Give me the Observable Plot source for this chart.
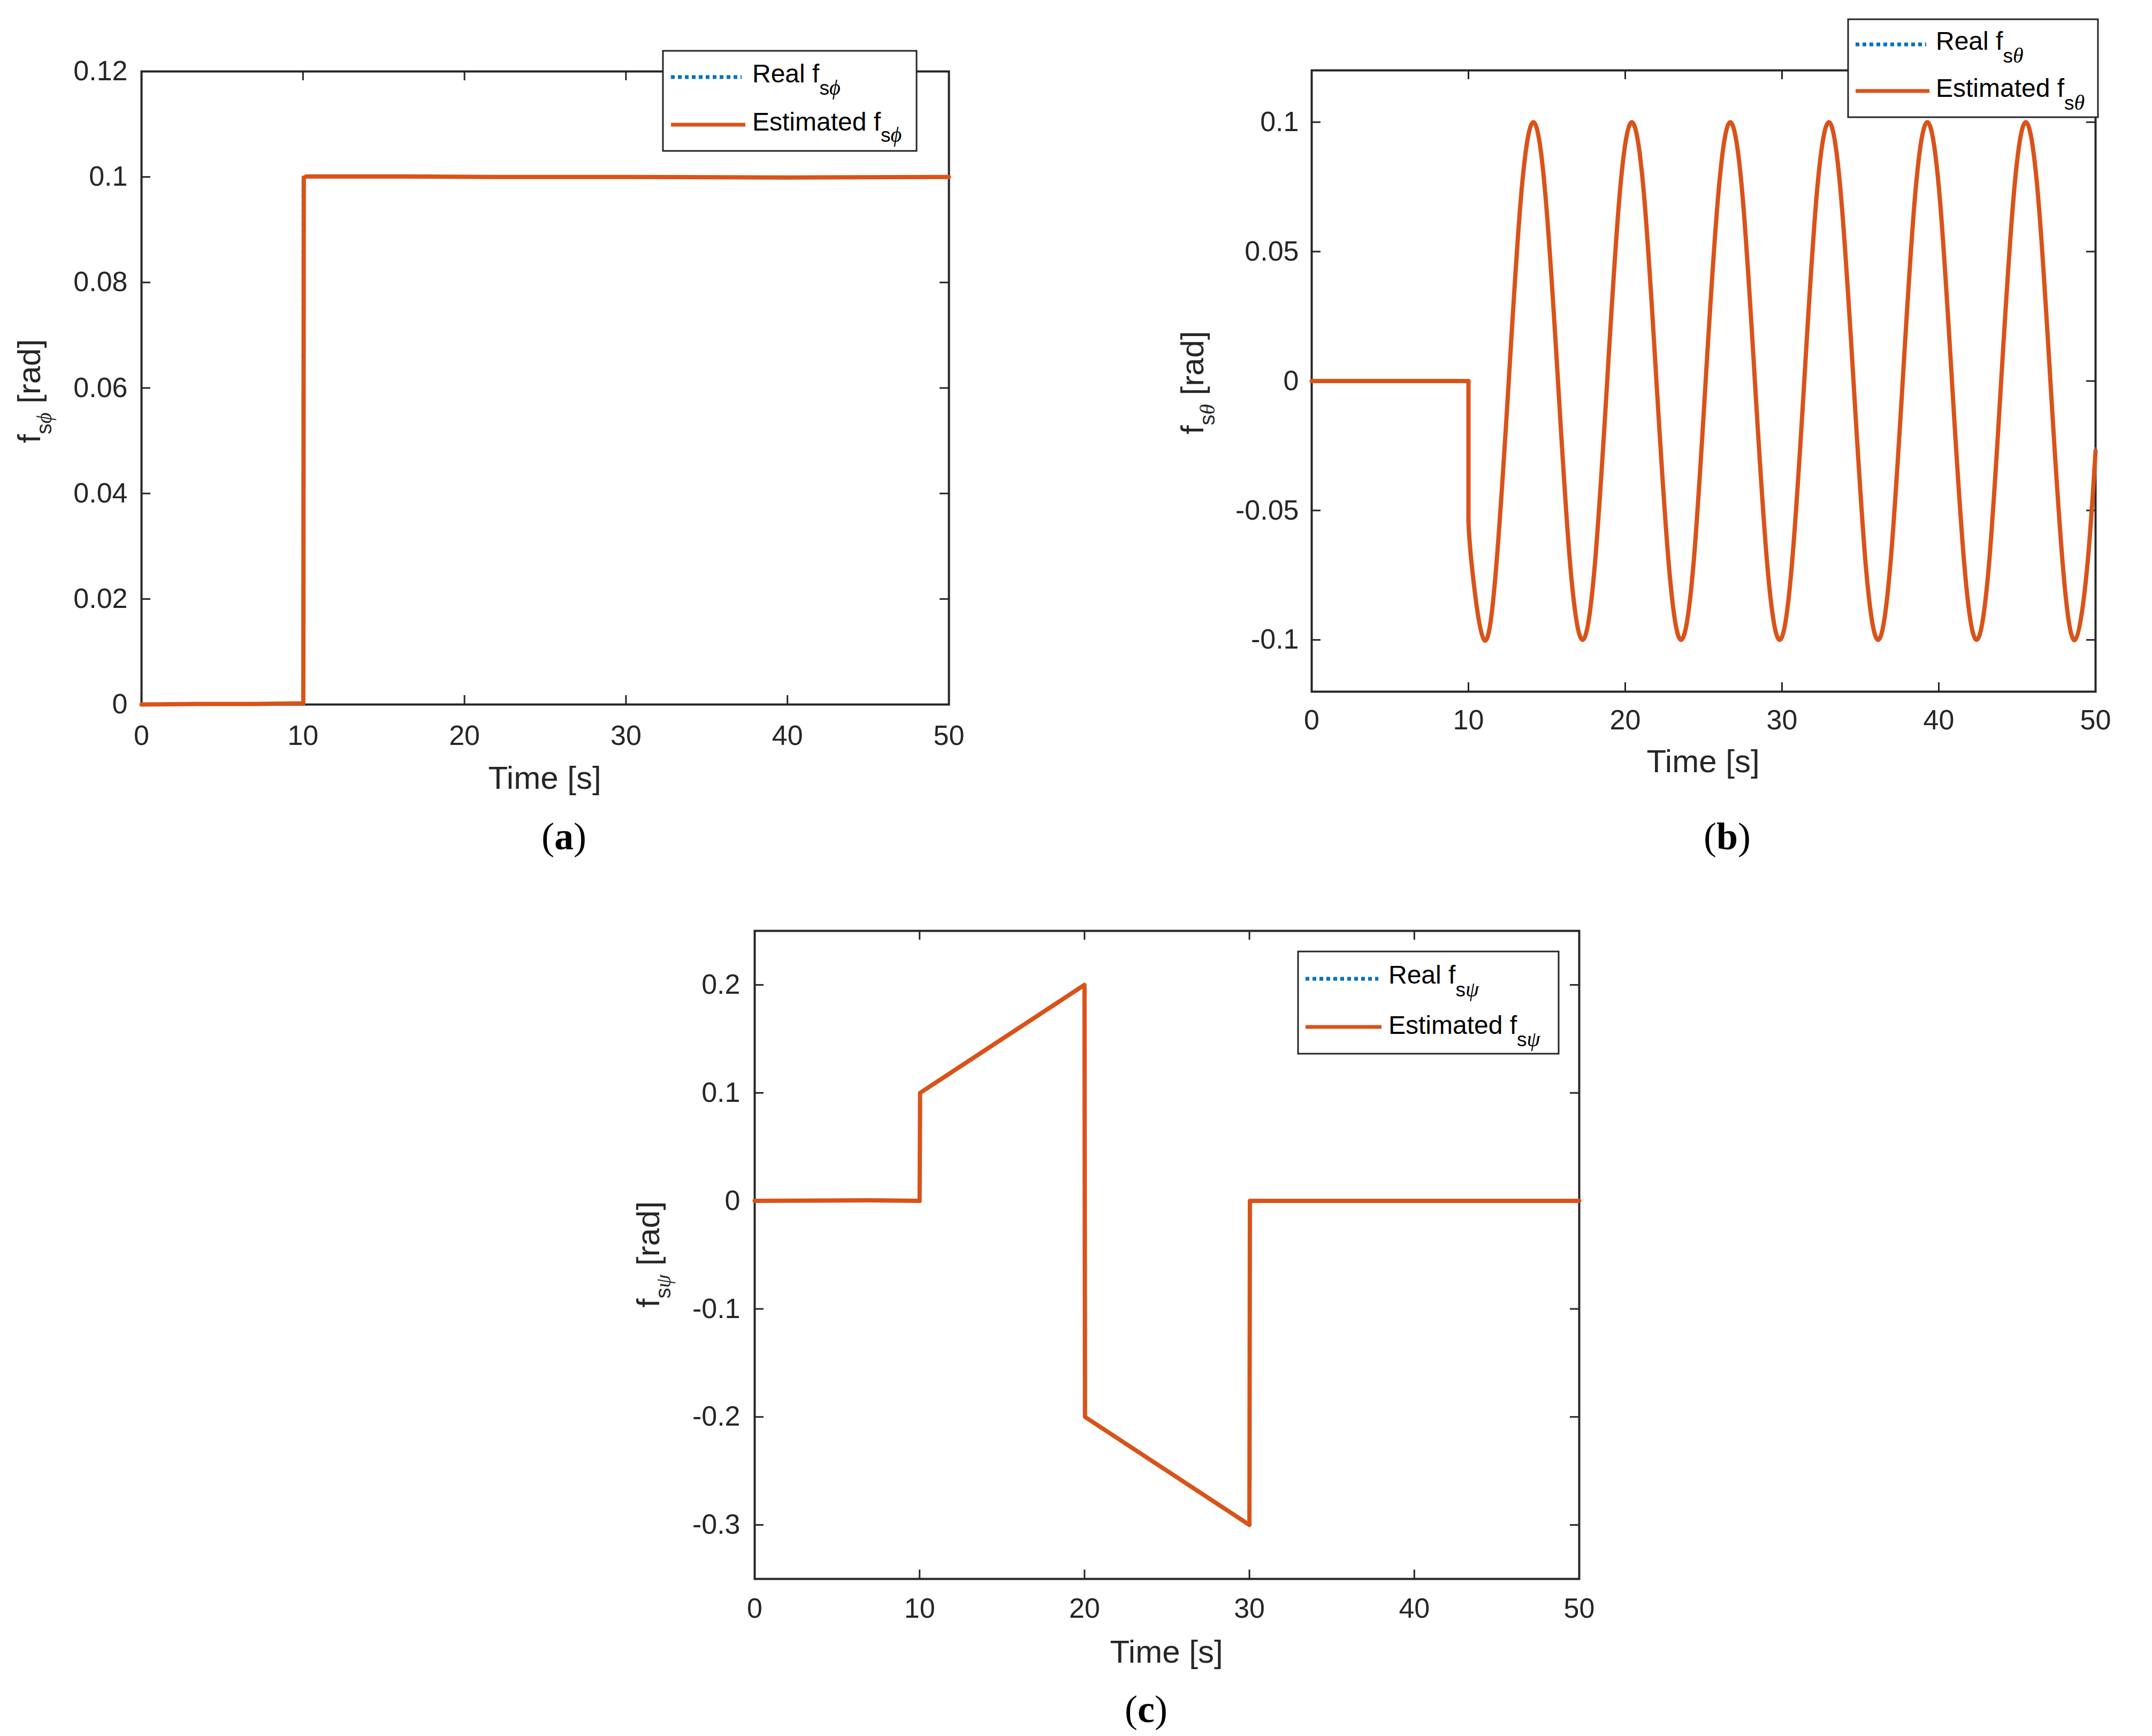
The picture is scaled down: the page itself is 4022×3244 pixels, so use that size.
<!DOCTYPE html>
<html>
<head>
<meta charset="utf-8">
<script src="https://cdn.jsdelivr.net/npm/d3@7"></script>
<script src="https://cdn.jsdelivr.net/npm/@observablehq/plot@0.6"></script>
<style>
html, body { margin: 0; padding: 0; background: #fff; }
#page { position: relative; width: 4022px; height: 3244px; background: #fff; overflow: hidden; }
#page svg { position: absolute; overflow: visible; max-width: none; }
</style>
</head>
<body>
<div id="page"></div>
<script>
// ---------------- DATA ----------------
const xTicks = [0, 10, 20, 30, 40, 50];

// (a) f_s phi
const yTicksA = [0, 0.02, 0.04, 0.06, 0.08, 0.1, 0.12];
const realA_t = [0, 10, 10, 50];
const realA_v = [0, 0, 0.1, 0.1];
const estA_t = [0, 3.5, 7, 9.4, 10.02, 10.05, 10.2, 15.5, 22, 30, 40, 50];
const estA_v = [0, 0.0001, 0.0001, 0.0002, 0.0002, 0.0998, 0.1001, 0.1001, 0.1, 0.1, 0.0999, 0.1];

// (b) f_s theta
const yTicksB = [-0.1, -0.05, 0, 0.05, 0.1];
const stepB_t = [0, 10, 10];
const stepB_v = [0, 0, -0.054];
const waveB_t = [10, 10.21, 11.0, 11.78, 12.57, 13.35, 14.14, 14.92, 15.71, 16.49, 17.28, 18.06, 18.85,
  19.63, 20.42, 21.21, 21.99, 22.78, 23.56, 24.35, 25.13, 25.92, 26.7, 27.49, 28.27, 29.06, 29.85,
  30.63, 31.42, 32.2, 32.99, 33.77, 34.56, 35.34, 36.13, 36.91, 37.7, 38.48, 39.27, 40.06, 40.84,
  41.63, 42.41, 43.2, 43.98, 44.77, 45.55, 46.34, 47.12, 47.91, 48.69, 49.48, 50];
const realB_v = [-0.054,
  -0.071, -0.1, -0.071, 0, 0.071, 0.1, 0.071, 0,
  -0.071, -0.1, -0.071, 0, 0.071, 0.1, 0.071, 0,
  -0.071, -0.1, -0.071, 0, 0.071, 0.1, 0.071, 0,
  -0.071, -0.1, -0.071, 0, 0.071, 0.1, 0.071, 0,
  -0.071, -0.1, -0.071, 0, 0.071, 0.1, 0.071, 0,
  -0.071, -0.1, -0.071, 0, 0.071, 0.1, 0.071, 0,
  -0.071, -0.1, -0.071,
  -0.026];
const estB_v = [-0.054,
  -0.071, -0.1, -0.071, 0, 0.071, 0.1, 0.071, 0,
  -0.071, -0.1, -0.071, 0, 0.071, 0.1, 0.071, 0,
  -0.071, -0.1, -0.071, 0, 0.071, 0.1, 0.071, 0,
  -0.071, -0.1, -0.071, 0, 0.071, 0.1, 0.071, 0,
  -0.071, -0.1, -0.071, 0, 0.071, 0.1, 0.071, 0,
  -0.071, -0.1, -0.071, 0, 0.071, 0.1, 0.071, 0,
  -0.071, -0.1, -0.071,
  -0.027];

// (c) f_s psi
const yTicksC = [-0.3, -0.2, -0.1, 0, 0.1, 0.2];
const realC_t = [0, 10, 10, 20, 20, 30, 30, 50];
const realC_v = [0, 0, 0.1, 0.2, -0.2, -0.3, 0, 0];
const estC_t = [0, 7, 10, 10.03, 20, 20.03, 30, 30.03, 50];
const estC_v = [0, 0.0005, 0, 0.1, 0.2, -0.2, -0.3, 0, 0];

const seriesNames = ["Real f", "Estimated f"];

// ---------------- STYLE ----------------
const AX = "#262626";
const BLUE = "#0072BD";
const ORANGE = "#D95319";
const SANS = "'Liberation Sans', Arial, Helvetica, sans-serif";
const SERIF = "'Liberation Serif', 'DejaVu Serif', 'Times New Roman', serif";
const TL = 17;

const zip = (t, v) => t.map((x, i) => ({t: x, v: v[i]}));

const panels = [
  {
    id: "a", greek: "\u03D5", left: 0, top: 0, width: 1840, height: 1640,
    frame: [264, 133, 1773, 1316], yDomain: [0, 0.12], yTicks: yTicksA,
    xPad: 39, yPad: 26,
    real: [zip(realA_t, realA_v)], est: [zip(estA_t, estA_v)], estCurve: [],
    realCurve: [],
    yLab: [75, 731], xLab: [1018, 1474], pLab: [1054, 1587],
    leg: {box: [1239, 95, 474, 187], x0: 1254, bx1: 1386, ox1: 1393, tx: 1406,
          by: 144, rb: 154, rs: 177, oy: 233, eb: 244, es: 265}
  },
  {
    id: "b", greek: "\u03B8", left: 2000, top: 0, width: 2022, height: 1640,
    frame: [2451, 131, 3916, 1292], yDomain: [-0.12, 0.12], yTicks: yTicksB,
    xPad: 34, yPad: 24,
    real: [zip(stepB_t, stepB_v)], est: [zip(stepB_t, stepB_v)],
    realCurve: [zip(waveB_t, realB_v)], estCurve: [zip(waveB_t, estB_v)],
    yLab: [2249, 715], xLab: [3183, 1443], pLab: [3228, 1587],
    leg: {box: [3454, 36, 467, 183], x0: 3468, bx1: 3600, ox1: 3606, tx: 3618,
          by: 83, rb: 93, rs: 117, oy: 170, eb: 181, es: 205}
  },
  {
    id: "c", greek: "\u03C8", left: 1000, top: 1650, width: 2022, height: 1594,
    frame: [1410, 1739, 2951, 2950], yDomain: [-0.35, 0.25], yTicks: yTicksC,
    xPad: 36, yPad: 27,
    real: [zip(realC_t, realC_v)], est: [zip(estC_t, estC_v)], realCurve: [], estCurve: [],
    yLab: [1232, 2344], xLab: [2180, 3107], pLab: [2142, 3218],
    leg: {box: [2426, 1778, 487, 191], x0: 2440, bx1: 2576, ox1: 2582, tx: 2595,
          by: 1829, rb: 1838, rs: 1862, oy: 1919, eb: 1932, es: 1955}
  }
];

const page = document.getElementById("page");

for (const p of panels) {
  const [x0, y0, x1, y1] = p.frame;
  const mL = x0 - p.left, mT = y0 - p.top;
  const mR = p.left + p.width - x1, mB = p.top + p.height - y1;
  const W = x1 - x0, H = y1 - y0;

  const realStyle = {x: "t", y: "v", stroke: BLUE, strokeWidth: 5, strokeDasharray: "7 6"};
  const estStyle = {x: "t", y: "v", stroke: ORANGE, strokeWidth: 8, strokeLinejoin: "round"};

  const svg = Plot.plot({
    width: p.width, height: p.height,
    marginLeft: mL, marginRight: mR, marginTop: mT, marginBottom: mB,
    style: {fontFamily: SANS, color: AX, background: "transparent"},
    x: {domain: [0, 50]},
    y: {domain: p.yDomain},
    marks: [
      Plot.frame({stroke: AX, strokeWidth: 4}),
      Plot.tickX(xTicks, {x: d => d, insetTop: H - TL, stroke: AX, strokeWidth: 3}),
      Plot.tickX(xTicks, {x: d => d, insetBottom: H - TL, stroke: AX, strokeWidth: 3}),
      Plot.tickY(p.yTicks, {y: d => d, insetRight: W - TL, stroke: AX, strokeWidth: 3}),
      Plot.tickY(p.yTicks, {y: d => d, insetLeft: W - TL, stroke: AX, strokeWidth: 3}),
      Plot.axisX(xTicks, {tickSize: 0, tickPadding: p.xPad, fontSize: 52, label: null, tickFormat: d => String(d)}),
      Plot.axisY(p.yTicks, {tickSize: 0, tickPadding: p.yPad, fontSize: 52, label: null, tickFormat: d => String(d)}),
      ...p.real.map(d => Plot.line(d, realStyle)),
      ...p.realCurve.map(d => Plot.line(d, {...realStyle, curve: "natural"})),
      ...p.est.map(d => Plot.line(d, estStyle)),
      ...p.estCurve.map(d => Plot.line(d, {...estStyle, curve: "natural"}))
    ]
  });
  svg.style.left = p.left + "px";
  svg.style.top = p.top + "px";
  page.appendChild(svg);

  const g = d3.select(svg).append("g")
    .attr("transform", `translate(${-p.left},${-p.top})`)
    .attr("text-anchor", "start");

  // y label
  const yl = g.append("text")
    .attr("transform", `translate(${p.yLab[0]},${p.yLab[1]}) rotate(-90)`)
    .attr("text-anchor", "middle").attr("font-family", SANS).attr("font-size", 60).attr("fill", AX);
  yl.append("tspan").text("f");
  yl.append("tspan").attr("dy", 21).attr("font-size", 40).text("s");
  yl.append("tspan").attr("font-size", 40).attr("font-style", "italic").attr("font-family", SERIF).text(p.greek);
  yl.append("tspan").attr("dy", -21).text(" [rad]");

  // x label
  g.append("text").attr("x", p.xLab[0]).attr("y", p.xLab[1])
    .attr("text-anchor", "middle").attr("font-family", SANS).attr("font-size", 60).attr("fill", AX)
    .text("Time [s]");

  // panel label
  const pl = g.append("text").attr("x", p.pLab[0]).attr("y", p.pLab[1])
    .attr("text-anchor", "middle").attr("font-family", SERIF).attr("font-size", 72).attr("fill", "#000");
  pl.append("tspan").text("(");
  pl.append("tspan").attr("font-weight", "bold").text(p.id);
  pl.append("tspan").text(")");

  // legend
  const L = p.leg;
  const lg = g.append("g");
  lg.append("rect").attr("x", L.box[0]).attr("y", L.box[1]).attr("width", L.box[2]).attr("height", L.box[3])
    .attr("fill", "#fff").attr("stroke", AX).attr("stroke-width", 3);
  lg.append("line").attr("x1", L.x0).attr("x2", L.bx1).attr("y1", L.by).attr("y2", L.by)
    .attr("stroke", BLUE).attr("stroke-width", 7).attr("stroke-dasharray", "7 6");
  lg.append("line").attr("x1", L.x0).attr("x2", L.ox1).attr("y1", L.oy).attr("y2", L.oy)
    .attr("stroke", ORANGE).attr("stroke-width", 7);
  const rows = [[seriesNames[0], L.rb, L.rs], [seriesNames[1], L.eb, L.es]];
  for (const [name, base, sub] of rows) {
    const t = lg.append("text").attr("x", L.tx).attr("y", base).attr("text-anchor", "start")
      .attr("font-family", SANS).attr("font-size", 48).attr("fill", "#000");
    t.append("tspan").text(name);
    t.append("tspan").attr("dy", sub - base).attr("font-size", 37).text("s");
    t.append("tspan").attr("font-size", 40).attr("font-style", "italic").attr("font-family", SERIF).text(p.greek);
  }
}
</script>
</body>
</html>
